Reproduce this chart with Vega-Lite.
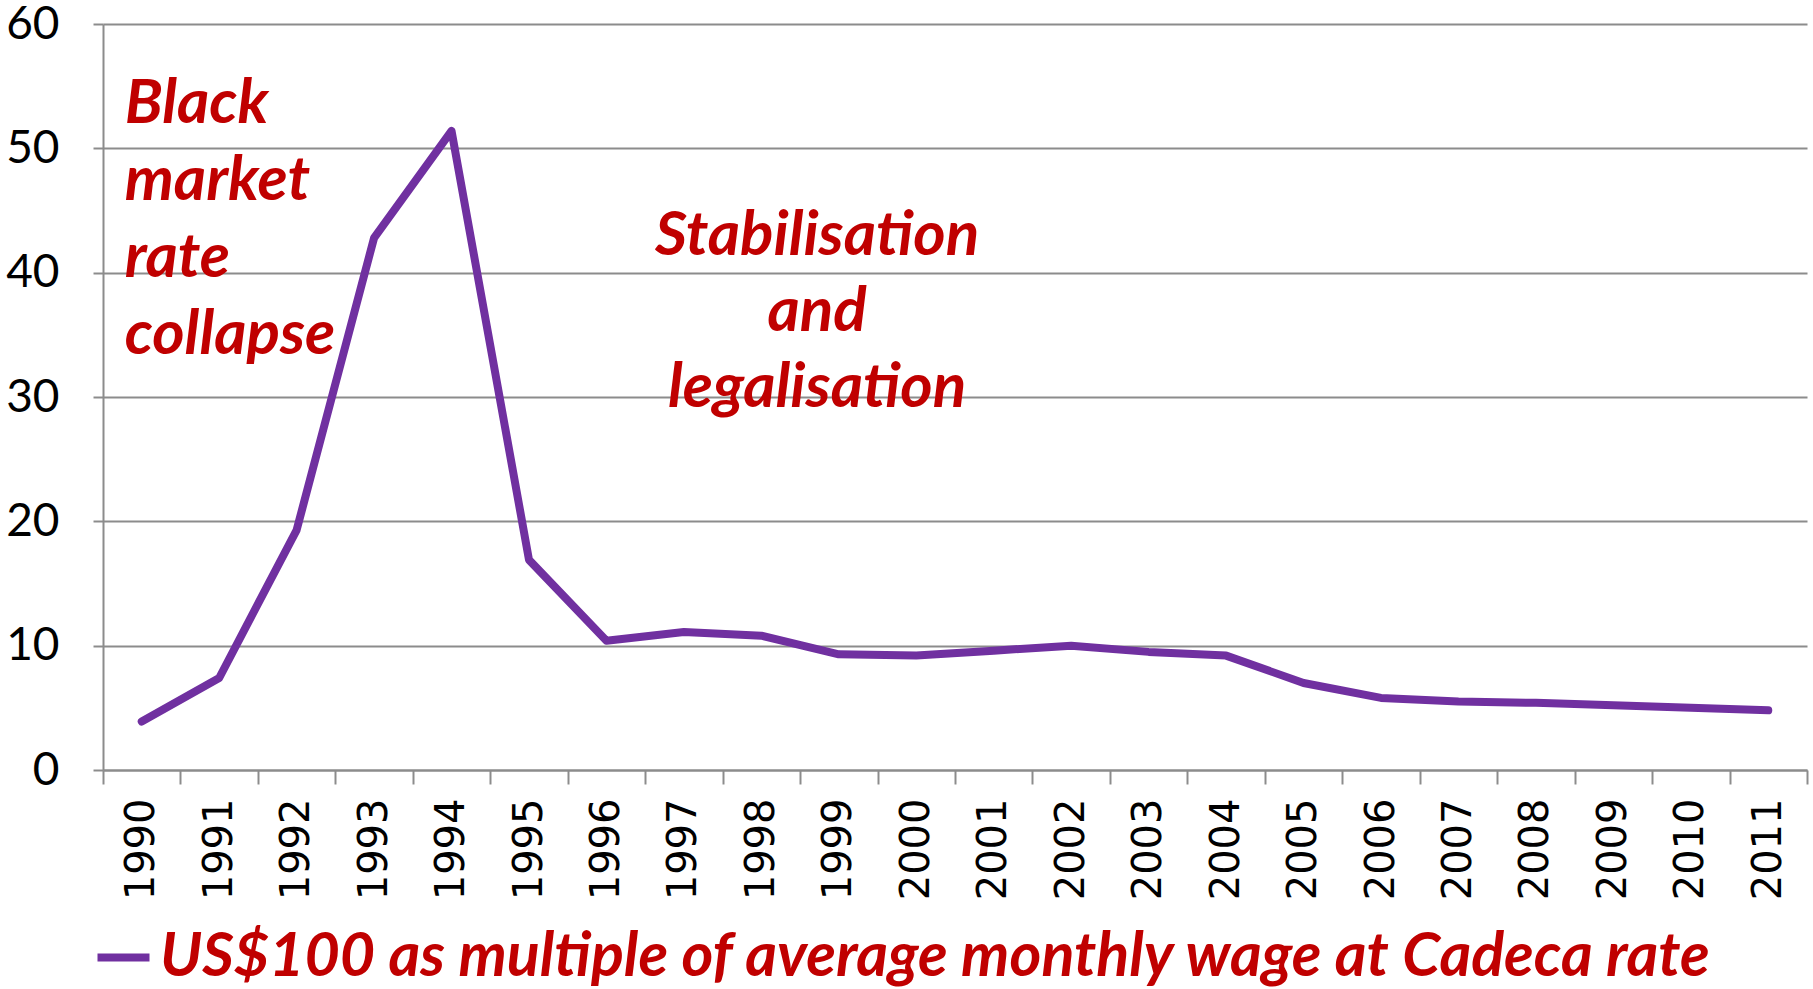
{
  "$schema": "https://vega.github.io/schema/vega-lite/v6.json",
  "width": 1704,
  "height": 746,
  "autosize": {"type": "none"},
  "padding": {"left": 103, "top": 24, "right": 6, "bottom": 219},
  "background": "white",
  "config": {"view": {"stroke": null}},
  "datasets": {
    "series": [
      {"year": 1990, "value": 3.9, "series": "US$100 as multiple of average monthly wage at Cadeca rate"},
      {"year": 1991, "value": 7.4, "series": "US$100 as multiple of average monthly wage at Cadeca rate"},
      {"year": 1992, "value": 19.3, "series": "US$100 as multiple of average monthly wage at Cadeca rate"},
      {"year": 1993, "value": 42.8, "series": "US$100 as multiple of average monthly wage at Cadeca rate"},
      {"year": 1994, "value": 51.4, "series": "US$100 as multiple of average monthly wage at Cadeca rate"},
      {"year": 1995, "value": 16.9, "series": "US$100 as multiple of average monthly wage at Cadeca rate"},
      {"year": 1996, "value": 10.4, "series": "US$100 as multiple of average monthly wage at Cadeca rate"},
      {"year": 1997, "value": 11.1, "series": "US$100 as multiple of average monthly wage at Cadeca rate"},
      {"year": 1998, "value": 10.8, "series": "US$100 as multiple of average monthly wage at Cadeca rate"},
      {"year": 1999, "value": 9.3, "series": "US$100 as multiple of average monthly wage at Cadeca rate"},
      {"year": 2000, "value": 9.2, "series": "US$100 as multiple of average monthly wage at Cadeca rate"},
      {"year": 2001, "value": 9.6, "series": "US$100 as multiple of average monthly wage at Cadeca rate"},
      {"year": 2002, "value": 10.0, "series": "US$100 as multiple of average monthly wage at Cadeca rate"},
      {"year": 2003, "value": 9.5, "series": "US$100 as multiple of average monthly wage at Cadeca rate"},
      {"year": 2004, "value": 9.2, "series": "US$100 as multiple of average monthly wage at Cadeca rate"},
      {"year": 2005, "value": 7.0, "series": "US$100 as multiple of average monthly wage at Cadeca rate"},
      {"year": 2006, "value": 5.8, "series": "US$100 as multiple of average monthly wage at Cadeca rate"},
      {"year": 2007, "value": 5.5, "series": "US$100 as multiple of average monthly wage at Cadeca rate"},
      {"year": 2008, "value": 5.4, "series": "US$100 as multiple of average monthly wage at Cadeca rate"},
      {"year": 2009, "value": 5.2, "series": "US$100 as multiple of average monthly wage at Cadeca rate"},
      {"year": 2010, "value": 5.0, "series": "US$100 as multiple of average monthly wage at Cadeca rate"},
      {"year": 2011, "value": 4.8, "series": "US$100 as multiple of average monthly wage at Cadeca rate"}
    ],
    "noteLeft": [
      {"x": 1989.78, "y": 52.0, "label": "Black\nmarket\nrate\ncollapse"}
    ],
    "noteCenter": [
      {"x": 1998.72, "y": 41.4, "label": "Stabilisation\nand\nlegalisation"}
    ]
  },
  "layer": [
    {
      "data": {"name": "series"},
      "mark": {"type": "line", "strokeWidth": 8, "strokeCap": "round", "strokeJoin": "round"},
      "encoding": {
        "x": {
          "field": "year", "type": "quantitative",
          "scale": {"domain": [1989.5, 2011.5], "nice": false, "zero": false},
          "axis": {
            "orient": "bottom", "title": null, "values": [1990,1991,1992,1993,1994,1995,1996,1997,1998,1999,2000,2001,2002,2003,2004,2005,2006,2007,2008,2009,2010,2011],
            "format": "d", "ticks": false, "domain": false, "grid": false,
            "labelAngle": -90, "labelAlign": "right", "labelBaseline": "middle",
            "labelPadding": 28, "labelFont": "DejaVu Sans", "labelFontSize": 40, "labelColor": "black",
            "labelOverlap": false, "labelFlush": false
          }
        },
        "y": {
          "field": "value", "type": "quantitative",
          "scale": {"domain": [0, 60], "nice": false},
          "axis": {
            "title": null, "values": [0,10,20,30,40,50,60],
            "grid": true, "gridColor": "#8c8c8c", "gridWidth": 2,
            "domain": true, "domainColor": "#8c8c8c", "domainWidth": 2,
            "ticks": true, "tickSize": 10, "tickColor": "#8c8c8c", "tickWidth": 2,
            "labelFont": "Lato", "labelFontSize": 46, "labelColor": "black", "labelPadding": 34,
            "labelFlush": false, "labelOverlap": false
          }
        },
        "color": {
          "field": "series", "type": "nominal",
          "scale": {"range": ["#7030A0"]},
          "legend": {
            "title": null, "orient": "none", "legendX": -10, "legendY": 903,
            "symbolType": "stroke", "symbolSize": 2704, "symbolStrokeWidth": 8,
            "labelFont": "Lato", "labelFontStyle": "italic", "labelFontWeight": "bold",
            "labelFontSize": 61, "labelColor": "#C00000", "labelLimit": 0, "labelOffset": 6
          }
        }
      }
    },
    {
      "data": {"name": "noteLeft"},
      "mark": {"type": "text", "font": "Lato", "fontStyle": "italic", "fontWeight": "bold", "fontSize": 62, "color": "#C00000", "lineBreak": "\n", "lineHeight": 77, "baseline": "alphabetic", "align": "left"},
      "encoding": {
        "x": {
          "field": "x", "type": "quantitative",
          "axis": {
            "orient": "bottom", "title": null,
            "values": [1989.5,1990.5,1991.5,1992.5,1993.5,1994.5,1995.5,1996.5,1997.5,1998.5,1999.5,2000.5,2001.5,2002.5,2003.5,2004.5,2005.5,2006.5,2007.5,2008.5,2009.5,2010.5,2011.5],
            "labels": false, "grid": false,
            "domain": true, "domainColor": "#8c8c8c", "domainWidth": 2,
            "ticks": true, "tickSize": 14, "tickColor": "#8c8c8c", "tickWidth": 2
          }
        },
        "y": {"field": "y", "type": "quantitative"},
        "text": {"field": "label"}
      }
    },
    {
      "data": {"name": "noteCenter"},
      "mark": {"type": "text", "font": "Lato", "fontStyle": "italic", "fontWeight": "bold", "fontSize": 62, "color": "#C00000", "lineBreak": "\n", "lineHeight": 76, "baseline": "alphabetic", "align": "center"},
      "encoding": {
        "x": {"field": "x", "type": "quantitative", "axis": null},
        "y": {"field": "y", "type": "quantitative"},
        "text": {"field": "label"}
      }
    }
  ],
  "resolve": {"axis": {"x": "independent"}}
}
